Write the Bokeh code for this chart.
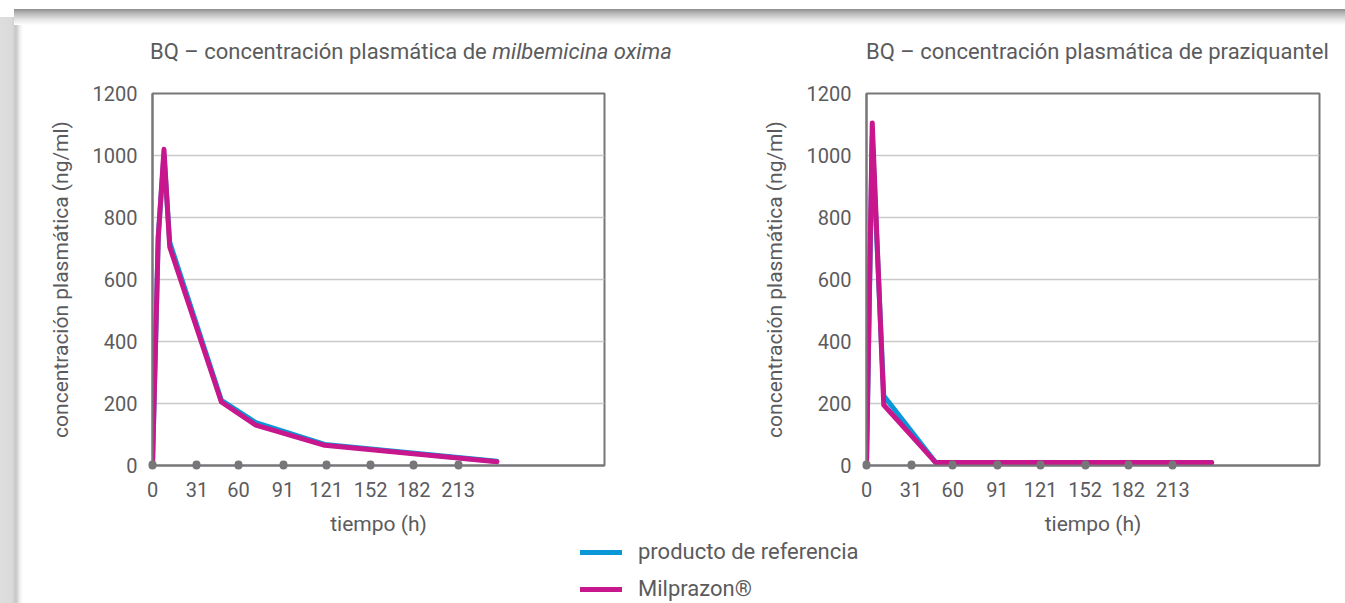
from bokeh.plotting import figure
from bokeh.models import Range1d, FixedTicker, Legend, LegendItem, Div
from bokeh.layouts import row, column
from bokeh.embed import file_html
from bokeh.resources import INLINE

# ---------------- data ----------------
x_ticks = [0, 31, 60, 91, 121, 152, 182, 213]
y_ticks = [0, 200, 400, 600, 800, 1000, 1200]

time_milb = [0, 4, 8, 12, 48, 72, 120, 240]
milb_referencia = [0, 740, 1000, 720, 210, 138, 68, 14]
milb_milprazon = [0, 735, 1020, 705, 205, 130, 65, 12]

time_prazi = [0, 4, 12, 48, 72, 120, 240]
prazi_referencia = [0, 1060, 225, 10, 10, 10, 10]
prazi_milprazon = [0, 1105, 195, 10, 10, 10, 10]

series_names = ["producto de referencia", "Milprazon\u00ae"]
title_left_plain = "BQ \u2013 concentraci\u00f3n plasm\u00e1tica de"
title_left_italic = "milbemicina oxima"
title_right_plain = "BQ \u2013 concentraci\u00f3n plasm\u00e1tica de praziquantel"
y_label = "concentraci\u00f3n plasm\u00e1tica (ng/ml)"
x_label = "tiempo (h)"

# ---------------- style ----------------
FONT = "Roboto"
TEXT = "#5b5b5d"
AXIS = "#77777a"
GRID = "#c9c9c9"
BLUE = "#0a97d8"
MAGENTA = "#c8178c"
FS_TICK = "20px"
FS_LABEL = "21px"
FS_BIG = "22px"


def make_chart(t, ref, milp, width, mb_left, mb_right):
    p = figure(width=width, height=460, output_backend="svg", toolbar_location=None,
               title=None,
               x_range=Range1d(0, 315), y_range=Range1d(0, 1200),
               min_border_left=mb_left, min_border_right=mb_right,
               min_border_top=13, min_border_bottom=75)
    p.border_fill_color = None
    p.background_fill_color = "white"
    p.outline_line_color = AXIS
    p.outline_line_width = 2

    p.xgrid.visible = False
    p.ygrid.grid_line_color = GRID
    p.ygrid.grid_line_width = 1.5

    xa = p.xaxis[0]
    xa.ticker = FixedTicker(ticks=x_ticks)
    xa.minor_tick_line_color = None
    xa.major_tick_line_color = AXIS
    xa.major_tick_line_width = 8
    xa.major_tick_line_cap = "round"
    xa.major_tick_in = 1
    xa.major_tick_out = 0
    xa.axis_line_color = AXIS
    xa.axis_line_width = 2
    xa.major_label_text_font = FONT
    xa.major_label_text_font_size = FS_TICK
    xa.major_label_text_color = TEXT
    xa.major_label_standoff = 16
    xa.axis_label = x_label
    xa.axis_label_text_font = FONT
    xa.axis_label_text_font_size = FS_LABEL
    xa.axis_label_text_font_style = "normal"
    xa.axis_label_text_color = TEXT
    xa.axis_label_standoff = 12

    ya = p.yaxis[0]
    ya.ticker = FixedTicker(ticks=y_ticks)
    ya.minor_tick_line_color = None
    ya.major_tick_line_color = None
    ya.major_tick_in = 0
    ya.major_tick_out = 0
    ya.axis_line_color = AXIS
    ya.axis_line_width = 2
    ya.major_label_text_font = FONT
    ya.major_label_text_font_size = FS_TICK
    ya.major_label_text_color = TEXT
    ya.major_label_standoff = 15
    ya.axis_label = y_label
    ya.axis_label_text_font = FONT
    ya.axis_label_text_font_size = FS_LABEL
    ya.axis_label_text_font_style = "normal"
    ya.axis_label_text_color = TEXT
    ya.axis_label_standoff = 17

    p.line(t, ref, line_color=BLUE, line_width=5, line_join="round", line_cap="round")
    p.line(t, milp, line_color=MAGENTA, line_width=5, line_join="round", line_cap="round")
    return p


p1 = make_chart(time_milb, milb_referencia, milb_milprazon, 710, 152, 106)
p2 = make_chart(time_prazi, prazi_referencia, prazi_milprazon, 635, 156, 26)

title_style = ("margin:0; padding:39px 0 0 {pad}px; font-family:Roboto; font-size:" + FS_BIG + "; "
               "line-height:26px; color:" + TEXT + "; white-space:nowrap;")
div1 = Div(text='<div style="' + title_style.format(pad=150) + '">' + title_left_plain +
           ' <i>' + title_left_italic + '</i></div>', width=710, height=80, margin=0)
div2 = Div(text='<div style="' + title_style.format(pad=866 - 710) + '">' + title_right_plain +
           '</div>', width=635, height=80, margin=0)

# legend figure (series drawn out of view; only the legend is visible)
p3 = figure(width=1345, height=63, output_backend="svg", toolbar_location=None, title=None,
            x_range=Range1d(-2, -1), y_range=Range1d(-2, -1),
            min_border_left=0, min_border_right=0, min_border_top=0, min_border_bottom=0)
p3.border_fill_color = None
p3.background_fill_color = None
p3.outline_line_color = None
p3.axis.visible = False
p3.grid.visible = False
lr1 = p3.line(time_milb, milb_referencia, line_color=BLUE, line_width=5, line_cap="round")
lr2 = p3.line(time_milb, milb_milprazon, line_color=MAGENTA, line_width=5, line_cap="round")
legend = Legend(items=[LegendItem(label=series_names[0], renderers=[lr1]),
                       LegendItem(label=series_names[1], renderers=[lr2])],
                location=(580, 2), orientation="vertical",
                glyph_width=42, glyph_height=16, label_height=16, label_standoff=16,
                spacing=12, padding=0, margin=0,
                border_line_color=None, background_fill_color=None,
                label_text_font=FONT, label_text_font_size=FS_BIG, label_text_color=TEXT)
p3.add_layout(legend, "center")

shadow_css = ("linear-gradient(to bottom, #ffffff 0px, #ffffff 9px, #8e8e8e 9px, #b5b5b5 13px, "
              "#e2e2e2 19px, #ffffff 25px) 14px 0 / 100% 25px no-repeat, "
              "linear-gradient(to right, #dedede 0px, #dadada 12px, #c6c6c6 16px, #f0f0f0 20px, "
              "#ffffff 23px) 0 17px / 23px 100% no-repeat, #ffffff")

layout = column(row(div1, div2), row(p1, p2), p3, styles={"background": shadow_css})

open("out.html", "w").write(file_html(layout, INLINE))
